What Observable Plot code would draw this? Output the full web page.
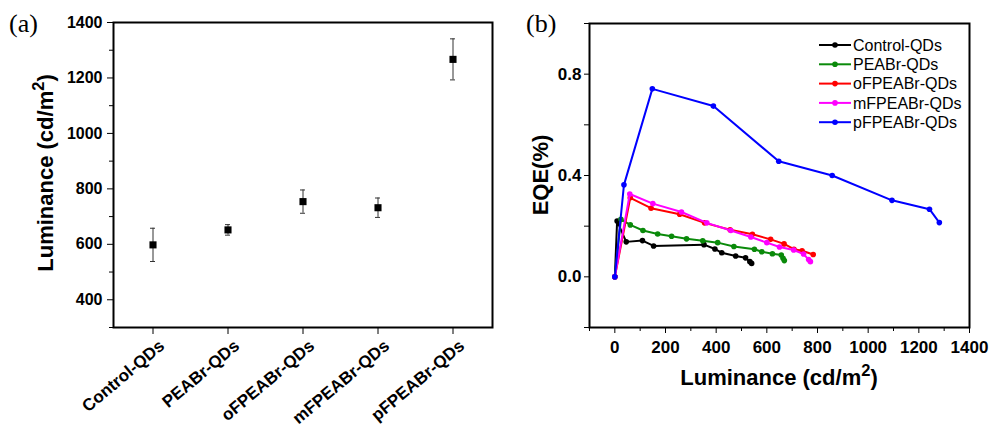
<!DOCTYPE html>
<html><head><meta charset="utf-8">
<script src="https://cdn.jsdelivr.net/npm/d3@7"></script>
<script src="https://cdn.jsdelivr.net/npm/@observablehq/plot@0.6"></script>
<style>
body{margin:0;background:#fff;width:994px;height:434px;overflow:hidden}
#wrap{position:relative;width:994px;height:434px}
#a,#b{position:absolute;top:0}
#a{left:0} #b{left:497px}
g[aria-label$="tick label"], g[aria-label$="tick label"] text{font-weight:bold !important}
</style></head><body><div id="wrap"><div id="a"></div><div id="b"></div></div>
<script>
// ---------- Panel (a) data ----------
const categories = ["Control-QDs", "PEABr-QDs", "oFPEABr-QDs", "mFPEABr-QDs", "pFPEABr-QDs"];
const luminance = [598, 652, 754, 732, 1267];
const luminanceErr = [60, 19, 42, 35, 74];
const yTicksA = [400, 600, 800, 1000, 1200, 1400];
const yMinorA = [300, 500, 700, 900, 1100, 1300];

// ---------- Panel (b) data ----------
const seriesNames = ["Control-QDs", "PEABr-QDs", "oFPEABr-QDs", "mFPEABr-QDs", "pFPEABr-QDs"];
const seriesColors = ["#000000", "#0a8a0a", "#ff0000", "#ff00ff", "#0000ff"];
const controlX = [0, 9, 45, 109, 153, 352, 395, 422, 477, 516, 533, 540];
const controlY = [0, 0.22, 0.138, 0.143, 0.122, 0.127, 0.110, 0.095, 0.082, 0.075, 0.060, 0.053];
const peabrX = [0, 24, 61, 111, 169, 224, 283, 347, 406, 470, 551, 580, 622, 657, 664, 669];
const peabrY = [0, 0.227, 0.205, 0.183, 0.169, 0.160, 0.150, 0.142, 0.135, 0.120, 0.109, 0.099, 0.091, 0.086, 0.073, 0.064];
const ofpeabrX = [0, 61, 143, 256, 354, 455, 543, 615, 668, 707, 739, 783];
const ofpeabrY = [0, 0.312, 0.271, 0.247, 0.213, 0.186, 0.168, 0.148, 0.130, 0.109, 0.103, 0.088];
const mfpeabrX = [0, 59, 150, 263, 363, 458, 537, 600, 650, 706, 745, 765, 772];
const mfpeabrY = [0, 0.327, 0.289, 0.256, 0.213, 0.183, 0.157, 0.135, 0.118, 0.106, 0.090, 0.068, 0.060];
const pfpeabrX = [0, 36, 148, 389, 647, 858, 1094, 1242, 1281];
const pfpeabrY = [0, 0.363, 0.742, 0.674, 0.456, 0.400, 0.302, 0.267, 0.214];
const xTicksB = [0, 200, 400, 600, 800, 1000, 1200, 1400];
const xMinorB = [-100, 100, 300, 500, 700, 900, 1100, 1300];
const yTicksB = [0, 0.4, 0.8];
const yMinorB = [-0.2, 0.2, 0.6, 1.0];

const FONT = "'Liberation Sans', Arial, Helvetica, sans-serif";
const SERIF = "'Liberation Serif', 'Times New Roman', serif";

function addLabel(svg, {x, y, rotate = 0, size, weight = "bold", family = FONT, anchor = "middle", parts}) {
  const t = d3.select(svg).append("text")
    .attr("transform", `translate(${x},${y}) rotate(${rotate})`)
    .attr("text-anchor", anchor)
    .attr("font-family", family)
    .attr("font-weight", weight)
    .attr("font-size", size)
    .attr("fill", "black");
  parts.forEach(p => {
    const s = t.append("tspan").text(p.t);
    if (p.sup) s.attr("dy", -size * 0.42).attr("font-size", size * 0.75);
    if (p.after) s.attr("dy", size * 0.42);
  });
  return t;
}

// ---------- Panel (a) ----------
const dataA = categories.map((c, i) => ({cat: c, v: luminance[i], e: luminanceErr[i]}));
const svgA = Plot.plot({
  width: 497, height: 434,
  marginLeft: 113, marginRight: 5, marginTop: 22, marginBottom: 107,
  style: {fontFamily: FONT, fontWeight: "bold", fontSize: "16px", color: "#000", background: "transparent", overflow: "visible"},
  x: {type: "band", domain: categories, padding: 0},
  y: {domain: [300, 1400]},
  marks: [
    Plot.axisY({ticks: yTicksA, tickFormat: d => String(d), tickSize: 6, tickPadding: 5, label: null, fontSize: 16, fontWeight: "bold"}),
    Plot.axisY({ticks: yMinorA, tickSize: 4, tickFormat: () => "", label: null}),
    Plot.axisX({tickSize: 7, tickRotate: -40, tickPadding: 4, label: null, fontSize: 17, fontWeight: "bold"}),
    Plot.ruleX(dataA, {x: "cat", y1: d => d.v - d.e, y2: d => d.v + d.e, stroke: "#333", strokeWidth: 1}),
    Plot.tickY(dataA, {x: "cat", y: d => d.v + d.e, stroke: "#333", strokeWidth: 1, insetLeft: 35, insetRight: 35}),
    Plot.tickY(dataA, {x: "cat", y: d => d.v - d.e, stroke: "#333", strokeWidth: 1, insetLeft: 35, insetRight: 35}),
    Plot.dot(dataA, {x: "cat", y: "v", symbol: "square", r: 4, fill: "black", stroke: "none"}),
    Plot.frame({stroke: "black", strokeWidth: 2})
  ]
});
// nudge rotated category labels slightly right/down, as in the reference
d3.select(svgA).selectAll('g[aria-label="x-axis tick label"]').attr("transform", function () {
  const t = this.getAttribute("transform") || "";
  return t + " translate(9,5)";
});
addLabel(svgA, {x: 53, y: 173, rotate: -90, size: 22, parts: [{t: "Luminance (cd/m"}, {t: "2", sup: true}, {t: ")", after: true}]});
addLabel(svgA, {x: 9, y: 32, size: 26, weight: "normal", family: SERIF, anchor: "start", parts: [{t: "(a)"}]});
document.getElementById("a").appendChild(svgA);

// ---------- Panel (b) ----------
const seriesB = [
  {name: seriesNames[0], color: seriesColors[0], x: controlX, y: controlY},
  {name: seriesNames[1], color: seriesColors[1], x: peabrX, y: peabrY},
  {name: seriesNames[2], color: seriesColors[2], x: ofpeabrX, y: ofpeabrY},
  {name: seriesNames[3], color: seriesColors[3], x: mfpeabrX, y: mfpeabrY},
  {name: seriesNames[4], color: seriesColors[4], x: pfpeabrX, y: pfpeabrY}
].map(s => ({...s, data: s.x.map((x, i) => ({x, y: s.y[i], name: s.name}))}));

const svgB = Plot.plot({
  width: 497, height: 434,
  marginLeft: 92, marginRight: 25, marginTop: 23, marginBottom: 107,
  style: {fontFamily: FONT, fontWeight: "bold", fontSize: "17px", color: "#000", background: "transparent", overflow: "visible"},
  x: {domain: [-100, 1400]},
  y: {domain: [-0.2, 1.0]},
  marks: [
    Plot.axisX({ticks: xTicksB, tickFormat: d => String(d), tickSize: 6, tickPadding: 7, label: null, fontSize: 17, fontWeight: "bold"}),
    Plot.axisX({ticks: xMinorB, tickSize: 4, tickFormat: () => "", label: null}),
    Plot.axisY({ticks: yTicksB, tickFormat: d => d.toFixed(1), tickSize: 5, tickPadding: 3, label: null, fontSize: 17, fontWeight: "bold"}),
    Plot.axisY({ticks: yMinorB, tickSize: 5, tickFormat: () => "", label: null}),
    ...seriesB.flatMap(s => [
      Plot.line(s.data, {x: "x", y: "y", stroke: s.color, strokeWidth: 2}),
      Plot.dot(s.data, {x: "x", y: "y", fill: s.color, r: 2.8, stroke: "none"})
    ]),
    Plot.frame({stroke: "black", strokeWidth: 2})
  ]
});
addLabel(svgB, {x: 282, y: 385, size: 22, parts: [{t: "Luminance (cd/m"}, {t: "2", sup: true}, {t: ")", after: true}]});
addLabel(svgB, {x: 51, y: 175, rotate: -90, size: 22, parts: [{t: "EQE(%)"}]});
addLabel(svgB, {x: 29, y: 32, size: 26, weight: "normal", family: SERIF, anchor: "start", parts: [{t: "(b)"}]});

// legend
const lg = d3.select(svgB).append("g");
seriesB.forEach((s, i) => {
  const yy = 45 + i * 19.3;
  lg.append("line").attr("x1", 322).attr("x2", 354).attr("y1", yy).attr("y2", yy).attr("stroke", s.color).attr("stroke-width", 2);
  lg.append("circle").attr("cx", 338).attr("cy", yy).attr("r", 2.8).attr("fill", s.color);
  lg.append("text").attr("x", 356).attr("y", yy).attr("dy", "0.36em").attr("text-anchor", "start")
    .attr("font-family", FONT).attr("font-weight", "normal").attr("font-size", 16).attr("fill", "black").text(s.name);
});
document.getElementById("b").appendChild(svgB);
</script>
</body></html>
